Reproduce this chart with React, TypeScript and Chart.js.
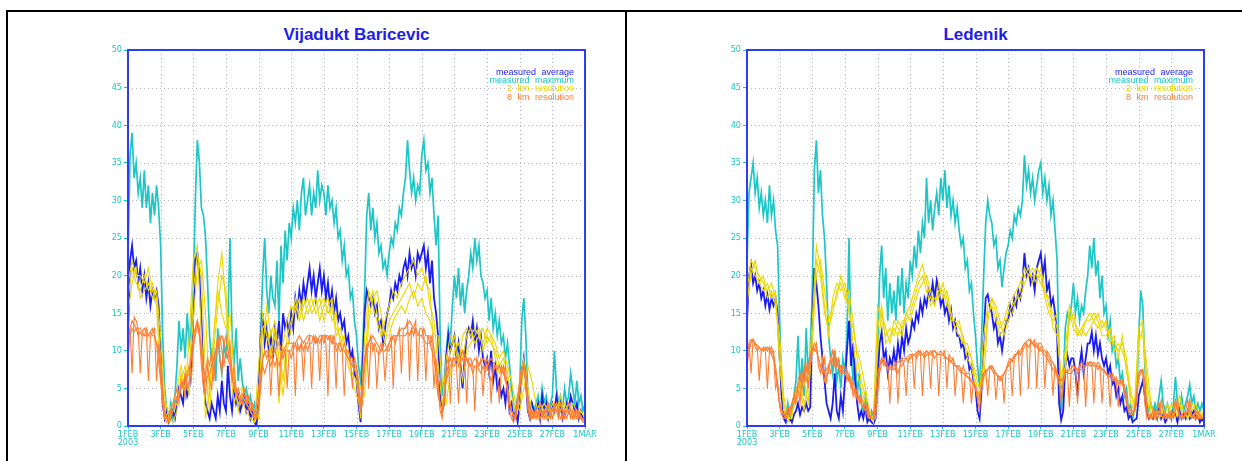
import React, { useEffect, useRef } from 'react';
import { Chart, registerables } from 'chart.js';

Chart.register(...registerables);

// ---------- labels ----------
const xTickLabels = ['1FEB', '3FEB', '5FEB', '7FEB', '9FEB', '11FEB', '13FEB', '15FEB', '17FEB', '19FEB', '21FEB', '23FEB', '25FEB', '27FEB', '1MAR'];
const yearLabel = '2003';
const legendLabels = ['measured average', 'measured maximum', '2 km resolution', '8 km resolution'];
const titles = ['Vijadukt Baricevic', 'Ledenik'];

// ---------- Vijadukt Baricevic (one row per day, last row = 1MAR) ----------
const baricevicMax = [
  [22, 36, 39, 33, 35, 31, 33, 29], [34, 29, 32, 27, 31, 28, 32, 29], [24, 12, 5, 2, 1, 3, 1, 4], [8, 14, 10, 13, 9, 15, 11, 13],
  [18, 30, 38, 35, 29, 28, 25, 19], [12, 8, 10, 6, 13, 9, 7, 11], [9, 14, 25, 12, 8, 13, 6, 9], [6, 4, 5, 3, 4, 2, 3, 1],
  [2, 12, 20, 25, 18, 15, 20, 17], [16, 22, 14, 24, 19, 26, 22, 27], [25, 29, 27, 30, 26, 31, 33, 28], [30, 32, 28, 31, 29, 34, 30, 32],
  [31, 28, 32, 29, 30, 27, 29, 25], [26, 22, 24, 20, 21, 17, 18, 14], [12, 8, 6, 10, 18, 28, 31, 26], [29, 25, 27, 23, 24, 21, 22, 20],
  [23, 25, 24, 27, 26, 29, 28, 31], [33, 38, 34, 31, 33, 30, 32, 31], [36, 38, 34, 35, 31, 33, 28, 24], [28, 12, 4, 6, 10, 13, 11, 16],
  [20, 17, 21, 16, 19, 15, 18, 20], [23, 21, 25, 22, 24, 20, 19, 17], [18, 14, 17, 13, 15, 12, 14, 11], [12, 9, 11, 8, 5, 3, 2, 4],
  [5, 14, 17, 12, 4, 2, 3, 2], [3, 4, 2, 5, 3, 4, 2, 3], [4, 10, 5, 3, 4, 2, 5, 3], [4, 7, 5, 3, 6, 3, 4, 2], [3],
];
const baricevicAvg = [
  [12, 22, 24, 21, 22, 19, 21, 18], [20, 17, 19, 16, 18, 17, 18, 16], [10, 3, 1, 2, 0.5, 1, 2, 1], [3, 5, 4, 3, 6, 4, 5, 8],
  [15, 22, 23, 20, 14, 6, 3, 2], [1, 3, 2, 1, 4, 2, 6, 3], [2, 8, 4, 2, 5, 3, 4, 2], [3, 4, 2, 3, 1, 2, 0.5, 0],
  [4, 12, 15, 11, 13, 10, 12, 9], [13, 11, 14, 10, 15, 13, 14, 12], [15, 13, 17, 15, 18, 16, 19, 17], [19, 21, 18, 20, 17, 19, 21, 18],
  [20, 17, 19, 16, 18, 15, 17, 14], [15, 13, 14, 11, 12, 9, 10, 7], [6, 3, 0.5, 8, 15, 18, 17, 16], [17, 15, 16, 13, 14, 11, 13, 15],
  [16, 18, 17, 19, 18, 20, 19, 21], [22, 20, 23, 21, 22, 20, 23, 22], [23, 24, 21, 23, 19, 22, 17, 15], [12, 4, 2, 3, 9, 12, 10, 11],
  [12, 9, 11, 8, 5, 9, 12, 13], [12, 14, 11, 13, 10, 12, 9, 8], [9, 7, 10, 6, 8, 5, 6, 4], [5, 3, 6, 2, 3, 1, 2, 0.5],
  [3, 7, 9, 6, 2, 1, 3, 2], [2, 3, 1, 4, 2, 3, 1, 2], [3, 2, 4, 2, 3, 1, 2, 3], [2, 4, 3, 2, 3, 1, 2, 1], [1],
];
const baricevic2kmA = [
  [19, 22, 20, 20], [19, 21, 18, 16], [6, 1, 2, 3], [5, 8, 4, 12], [22, 24, 12, 1], [5, 12, 19, 23], [16, 8, 3, 5], [3, 2, 1, 0.5],
  [8, 15, 12, 10], [13, 3, 11, 14], [16, 15, 17, 14], [16, 17, 15, 16], [17, 15, 16, 12], [13, 11, 9, 7], [6, 1, 12, 18], [16, 14, 12, 14],
  [16, 18, 17, 19], [20, 21, 22, 20], [21, 19, 18, 10], [4, 2, 9, 12], [11, 8, 12, 13], [12, 13, 12, 11], [13, 12, 9, 7], [8, 5, 2, 1],
  [6, 9, 3, 1], [2, 3, 2, 1], [3, 2, 4, 2], [3, 2, 1, 2], [1],
];
const baricevic2kmB = [
  [17, 21, 19, 18], [20, 18, 19, 17], [9, 2, 0.5, 2], [3, 6, 8, 4], [18, 23, 20, 7], [2, 10, 16, 20], [18, 10, 5, 3], [4, 3, 2, 1],
  [4, 13, 14, 9], [12, 11, 6, 12], [14, 16, 15, 17], [15, 16, 17, 14], [16, 17, 14, 15], [11, 12, 8, 6], [4, 3, 8, 16], [18, 15, 13, 11],
  [14, 15, 16, 17], [18, 19, 17, 19], [18, 20, 16, 14], [8, 3, 6, 10], [12, 9, 6, 10], [11, 12, 13, 10], [12, 11, 10, 8], [9, 7, 4, 2],
  [3, 8, 5, 2], [1, 2, 3, 2], [2, 3, 2, 3], [2, 3, 2, 1], [0.5],
];
const baricevic2kmC = [
  [15, 19, 21, 17], [18, 19, 17, 18], [12, 4, 1, 0.5], [2, 7, 5, 8], [14, 21, 22, 15], [4, 12, 18, 15], [13, 15, 7, 2], [5, 4, 3, 2],
  [1, 10, 16, 12], [14, 9, 4, 10], [13, 17, 14, 16], [17, 15, 16, 17], [14, 16, 17, 13], [12, 10, 9, 8], [7, 5, 4, 14], [17, 18, 15, 12],
  [12, 14, 15, 16], [15, 17, 18, 16], [17, 15, 14, 12], [12, 6, 3, 7], [10, 11, 9, 12], [13, 11, 12, 13], [11, 12, 11, 9], [10, 8, 6, 3],
  [2, 5, 8, 6], [3, 1, 2, 3], [1, 2, 3, 2], [3, 1, 2, 2], [1],
];
const baricevic8kmA = [
  [11, 13, 7, 14.5, 14, 13, 7, 12.5], [13, 12.5, 6, 12, 12.5, 13, 6, 11], [9, 5, 2, 1, 0.5, 1, 2, 3], [3, 4, 5, 6, 4, 7, 8, 6],
  [10, 13, 14, 13, 10, 6, 4, 8], [6, 5, 8, 10, 12, 9, 7, 11], [12, 10, 9, 6, 8, 5, 4, 3], [4, 5, 3, 4, 2, 3, 1, 1],
  [3, 6, 9, 10, 9, 10, 4, 10], [10, 9, 4, 10, 9, 10, 5, 10], [10, 11, 4, 11, 10, 11, 6, 11], [11, 12, 5, 11, 12, 11, 6, 12],
  [12, 11, 4, 12, 12, 11, 5, 11], [11, 10, 4, 10, 10, 9, 5, 9], [8, 6, 2, 5, 9, 11, 5, 11], [11, 10, 5, 10, 11, 10, 6, 10],
  [11, 12, 5, 12, 12, 13, 7, 13], [13, 14, 6, 13, 13, 14, 6, 13], [13, 12, 6, 12, 12, 11, 5, 9], [5, 2, 1, 4, 8, 9, 3, 9],
  [9, 8, 3, 9, 10, 9, 3, 9], [9, 8, 2, 9, 8, 9, 4, 8], [9, 8, 3, 8, 8, 7, 3, 8], [7, 8, 4, 2, 1, 0.5, 2, 4],
  [6, 8, 8, 7, 3, 1, 2, 1], [2, 1, 3, 2, 1, 2, 3, 1], [2, 3, 2, 1, 3, 2, 1, 2], [3, 2, 1, 2, 1, 2, 1, 1], [0.5],
];
const baricevic8kmB = [
  [9, 12, 13, 12.5, 13, 12, 12.5, 12], [12, 13, 12, 12.5, 12, 12, 11, 10], [7, 3, 1, 0.5, 1, 2, 3, 4], [5, 3, 6, 5, 7, 5, 6, 9],
  [11, 12, 13.5, 12, 8, 5, 7, 9], [8, 10, 6, 9, 11, 12, 10, 8], [10, 9, 11, 7, 6, 4, 5, 4], [3, 4, 4, 3, 3, 2, 2, 1],
  [2, 5, 8, 7, 8, 9, 8, 9], [8, 9, 8, 9, 10, 10, 10, 10], [9, 10, 11, 10, 10.5, 11, 10, 11], [10, 11, 11, 12, 11, 11.5, 11, 12],
  [11, 12, 11.5, 12, 11, 12, 10, 10.5], [11, 10, 11, 10, 10, 9, 9, 8], [8, 4, 2, 3, 8, 10, 11, 12], [10, 11, 10, 9.5, 10, 11, 11, 10],
  [10, 11, 12, 11, 12, 12, 12, 12], [12, 12.5, 12, 13, 12, 13, 12.5, 12], [12, 13, 12, 12, 11, 12, 10, 8], [6, 3, 2, 3, 7, 8, 9, 8],
  [8, 9, 8, 8.5, 9, 8, 9, 8], [8, 7, 8, 8, 7.5, 7, 8, 7], [8, 7, 6, 7, 8, 7.5, 8, 7], [8, 6, 5, 3, 2, 1, 1, 3],
  [5, 7, 8, 6, 2, 1, 1, 2], [1, 2, 2, 1, 2, 1, 2, 2], [1, 2, 3, 2, 2, 1, 2, 1], [2, 1, 2, 1, 2, 1, 1, 0.5], [0.5],
];
const baricevic8kmC = [
  [12, 14, 13, 13], [12, 12, 13, 11], [6, 1, 1, 2], [4, 5, 6, 7], [12, 14, 10, 6], [7, 9, 11, 12], [10, 8, 5, 4], [3, 3, 2, 1],
  [5, 9, 10, 9], [10, 11, 10, 11], [11, 11, 12, 11], [12, 12, 11, 12], [12, 12, 11, 11], [10, 10, 9, 8], [7, 3, 9, 11], [12, 11, 10, 10],
  [11, 12, 12, 13], [13, 14, 13, 12], [12, 11, 11, 9], [4, 2, 6, 8], [9, 9, 10, 9], [8, 9, 8, 9], [8, 9, 8, 8], [7, 5, 2, 1],
  [5, 8, 4, 1], [2, 1, 2, 2], [2, 3, 1, 2], [2, 1, 2, 1], [1],
];

// ---------- Ledenik ----------
const ledenikMax = [
  [22, 31, 33, 35, 31, 33, 29, 31], [28, 30, 27, 32, 28, 30, 26, 24], [14, 5, 2, 1, 3, 1, 2, 4], [6, 12, 5, 9, 4, 13, 7, 10],
  [18, 34, 38, 31, 34, 28, 25, 19], [12, 9, 7, 10, 6, 8, 5, 9], [7, 12, 25, 10, 6, 9, 4, 7], [3, 2, 4, 2, 1, 2, 1, 2],
  [10, 20, 24, 17, 21, 14, 19, 15], [18, 14, 20, 16, 21, 15, 19, 17], [22, 20, 24, 21, 26, 23, 27, 25], [33, 27, 30, 26, 29, 31, 28, 33],
  [30, 34, 29, 32, 28, 30, 27, 29], [26, 24, 25, 21, 22, 18, 19, 15], [12, 8, 5, 12, 20, 27, 30, 28], [27, 24, 25, 21, 22, 18.5, 21, 23],
  [24, 26, 25, 28, 27, 29, 28, 30], [36, 32, 34, 31, 33, 30, 32, 34], [35, 31, 33, 30, 32, 28, 30, 26], [22, 8, 2, 6, 13, 15, 14, 16],
  [19, 15, 17, 14, 16, 15, 18, 20], [24, 21, 25, 20, 22, 17, 20, 15], [16, 12, 14, 10, 11, 8, 9, 6], [7, 4, 5, 2, 3, 1, 2, 4],
  [12, 18, 16, 8, 3, 2, 3, 2], [3, 2, 4, 6, 3, 2, 3, 2], [1, 3, 6.5, 3, 2, 4, 2, 3], [4, 5.5, 3, 4, 2, 3, 2, 3], [2],
];
const ledenikAvg = [
  [14, 20, 21.5, 19, 20, 18, 19, 17], [18, 16, 17.5, 15.5, 17, 16, 17, 15], [9, 4, 1, 0.5, 2, 1, 0.5, 1.5], [2, 3, 1.5, 2.5, 2, 3, 2, 2.5],
  [14, 21, 19, 16, 12, 9, 6, 3], [2, 1, 3, 7, 2, 1, 4, 2], [6, 10, 14, 8, 11, 6, 3, 1], [2, 1, 2.5, 0.5, 1, 0.5, 0.3, 1],
  [6, 11, 12.5, 9, 10, 7, 9, 8], [10, 8, 11, 9, 12, 10, 13, 11], [12, 14, 13, 15, 14, 16.5, 15, 17], [16, 18, 17, 19, 17, 19.4, 18, 16],
  [17, 15, 16, 14, 15.5, 13, 14, 12], [12, 10.5, 11, 9, 9.5, 7.5, 8, 6], [5, 2, 1, 5, 12, 17, 17.5, 16], [15, 13, 14, 11, 12, 10, 12, 14],
  [14, 16, 15, 17, 16, 18, 17, 19], [23, 20, 21, 19, 20, 18, 21, 22], [23, 20, 22, 18, 19, 16, 17, 15], [12, 3, 0.8, 2, 8, 9.5, 8, 9],
  [9, 7, 4, 8, 10, 7, 9, 11], [11, 12.5, 10, 12, 9.5, 11, 9, 8], [9, 7, 8, 5.5, 6, 4, 5, 3], [4, 2, 2.5, 1, 1.5, 0.5, 0.8, 1],
  [4, 5, 6, 4, 2, 1, 1.5, 1], [2, 1, 2.5, 1, 1.5, 0.5, 1, 2], [1, 2, 1.5, 0.5, 2, 1, 1.5, 1], [2, 1, 1.5, 2, 1, 1.5, 0.5, 1], [0.5],
];
const ledenik2kmA = [
  [18, 22, 21, 20], [19, 18, 19, 17], [10, 2, 1, 3], [4, 6, 3, 5], [14, 24, 21, 16], [12, 17, 19, 18], [19, 16, 11, 7], [5, 3, 1, 1],
  [16, 14, 12, 13], [12, 14, 13, 15], [16, 18, 20, 21.5], [19, 17, 16, 18], [18, 16, 15, 13], [12, 11, 10, 9], [6, 4, 12, 16], [17, 15, 13, 14],
  [16, 17, 18, 19], [21, 20, 21, 20], [19, 18, 16, 15], [13, 6, 10, 16], [14, 13, 12, 14], [15, 14, 13, 14], [13, 12, 11, 10], [11, 9, 4, 3],
  [13, 14, 6, 2], [1, 2, 1, 3], [1, 2, 4, 2], [1, 2, 3, 1], [1],
];
const ledenik2kmB = [
  [16, 21, 20, 19], [18, 19, 17, 18], [8, 3, 0.5, 2], [3, 5, 2, 6], [10, 22, 20, 15], [13, 15, 18, 19], [17, 18, 14, 9], [6, 4, 2, 1],
  [13, 16, 11, 12], [13, 12, 14, 14], [15, 17, 19, 20], [18, 16, 17, 17], [19, 17, 14, 14], [13, 12, 9, 8], [5, 3, 9, 15], [16, 14, 12, 13],
  [15, 16, 17, 18], [20, 21, 19, 21], [20, 17, 15, 14], [15, 5, 8, 15], [13, 12, 13, 14], [14, 15, 14, 12], [12, 13, 10, 11], [10, 8, 3, 2],
  [11, 13, 4, 1], [2, 1, 2, 2], [2, 1, 3, 1], [2, 1, 2, 2], [1],
];
const ledenik2kmC = [
  [17, 20, 22, 19], [20, 17, 18, 16], [12, 4, 1, 1], [5, 4, 6, 3], [12, 20, 22, 18], [14, 16, 17, 20], [18, 15, 13, 10], [8, 5, 2, 0.5],
  [10, 15, 13, 11], [14, 13, 12, 15], [14, 16, 18, 19], [20, 18, 16, 19], [17, 18, 15, 13], [14, 11, 11, 9], [7, 5, 6, 14], [17, 16, 14, 12],
  [14, 15, 17, 17], [19, 20, 20, 19], [21, 18, 17, 13], [12, 7, 7, 14], [15, 12, 13, 12], [13, 14, 15, 13], [14, 11, 12, 9], [12, 7, 5, 2],
  [12, 12, 8, 3], [1, 3, 2, 1], [3, 2, 3, 2], [1, 3, 2, 1], [2],
];
const ledenik8kmA = [
  [9, 11, 7, 11.5, 11, 10.5, 6, 10], [10.5, 10, 5, 10, 10.5, 9.5, 5, 6], [3, 2, 1.5, 1, 2, 1.5, 2.5, 3], [4, 5, 3, 7, 6, 8, 5, 8],
  [10, 11, 10.5, 9, 8, 7, 9, 6], [8, 7, 9, 10, 8, 9, 7, 8], [8, 6, 7, 5, 6, 4, 5, 3], [4, 3, 2, 3, 1.5, 1, 1, 2],
  [5, 8, 9, 8, 8.5, 8, 3, 8], [8, 8.5, 3, 8, 9, 8, 4, 9], [9, 9.5, 5, 9.5, 10, 9.5, 4, 9.5], [10, 9.5, 5, 10, 10, 9.5, 4, 9.5],
  [9.5, 10, 5, 9.5, 9, 9, 4, 8], [8, 7.5, 3, 7, 7, 7, 3, 6], [5, 3.5, 2, 6, 7, 7.5, 4, 7.5], [8, 7.5, 3.5, 6.5, 6, 6.5, 3, 7.5],
  [8, 8.5, 4, 9, 9.5, 10, 4, 10.5], [11, 11, 5, 11.5, 11, 11.5, 5, 11], [11, 10.5, 5, 10, 9.5, 9, 4, 8], [7, 6, 3, 5.5, 7, 7.5, 2.5, 8],
  [8, 7.5, 3, 8, 8.5, 8, 2.5, 8], [8.5, 8.5, 3, 8, 8.5, 8, 3, 7.5], [7, 6.5, 2.5, 7, 6.5, 6, 2.5, 6], [6, 5.5, 4, 2, 1.5, 2, 2, 3],
  [7, 7.5, 7, 3, 1, 1.5, 1, 2], [1, 2, 3, 1.5, 1, 2, 1, 1.5], [1, 2, 3.5, 2, 1, 1.5, 1, 2], [3.5, 2, 1, 1.5, 1, 2, 1.5, 1], [1],
];
const ledenik8kmB = [
  [8, 10, 11, 11.5, 10.5, 10, 10.5, 10], [10, 10.5, 10, 10.5, 9.5, 10, 7, 5], [2.5, 1.5, 1, 1.5, 2.5, 2, 3, 4], [3, 6, 7, 5, 8, 6, 7, 9],
  [10.5, 10, 11, 8, 7, 9, 6, 7], [7, 9, 10, 8, 9, 7.5, 8, 7], [7, 7.5, 6, 6.5, 4, 5, 3.5, 4], [3, 2.5, 3, 2, 1, 1.5, 2, 1],
  [4, 7, 8.5, 9, 8, 7.5, 8, 7.5], [7.5, 8, 7, 8, 8, 8.5, 9, 8.5], [9, 9.5, 9.5, 9, 9.5, 10, 9.5, 9], [9.5, 9.5, 10, 9.5, 9, 9.5, 9.5, 10],
  [9.5, 9, 9, 9, 8.5, 9, 8, 8], [7.5, 7, 8, 7, 6.5, 6.5, 6, 5.5], [5, 4, 3.5, 5, 6.5, 7, 7.5, 8], [7.5, 7, 7, 6.5, 6.5, 6, 7, 7.5],
  [8.5, 9, 8.5, 9.5, 9.5, 10, 9.5, 10], [10.5, 11, 10.5, 11, 11, 10.5, 11, 10], [10.5, 10, 10, 9.5, 9, 8.5, 8.5, 7.5], [6.5, 5.5, 5, 6, 7.5, 7, 7, 7],
  [7.5, 8, 7, 7.5, 7.5, 7.5, 8, 8.5], [8, 8, 8.5, 8, 7.5, 8, 7.5, 7.5], [7, 6.5, 7, 6.5, 6, 6.5, 5.5, 6], [5.5, 5, 3, 2, 1.5, 1.5, 2.5, 4],
  [6.5, 7, 7.5, 6, 2, 1, 1.5, 1], [2, 1, 1.5, 3.5, 2, 1, 1.5, 1], [2, 1, 2, 3.5, 1.5, 1, 2, 1.5], [2, 3.5, 1.5, 1, 2, 1, 1.5, 1], [1],
];
const ledenik8kmC = [
  [10, 11.5, 11, 10.5], [10, 10.5, 9.5, 8], [3, 1.5, 2, 3], [5, 6, 7, 8], [10.5, 10, 8, 7], [8, 10, 8, 8], [7, 6, 5, 4], [3, 2, 1, 1],
  [7, 9, 8, 7.5], [8, 8.5, 9, 9], [9.5, 9.5, 10, 9.5], [10, 9.5, 10, 9.5], [9.5, 9, 8.5, 8], [7.5, 7, 6.5, 6], [5, 4, 7, 7.5], [8, 7, 6.5, 7],
  [8, 9, 9.5, 10], [11, 11.5, 11, 10.5], [10, 9.5, 8.5, 7.5], [7, 6, 7, 7.5], [8, 7.5, 8, 8], [8.5, 8, 8, 7.5], [7, 6.5, 6, 6], [6, 3, 2, 2],
  [7, 7.5, 2, 1], [1.5, 2, 1, 1.5], [1, 3, 1.5, 1], [2, 1.5, 1, 1], [1],
];

// ---------- style ----------
const BLUE = '#1c1cf0';
const TEAL = '#1ec6c6';
const YELLOW = '#ecd600';
const ORANGE = '#ff7d32';
const AXIS_BLUE = '#2f3cf5';
const legendColors = [BLUE, TEAL, YELLOW, ORANGE];
const TICK_FONT = "'Liberation Sans Narrow', 'DejaVu Sans Condensed', 'Liberation Sans', Arial, sans-serif";

function toPoints(rows: number[][]) {
  const pts: { x: number; y: number }[] = [];
  rows.forEach((row, d) => row.forEach((v, j) => pts.push({ x: d + j / row.length, y: v })));
  return pts;
}

const gradsPlugin = {
  id: 'gradsFrame',
  beforeDatasetsDraw(chart: any) {
    const { ctx, chartArea: a, scales } = chart;
    const x = scales.x;
    const y = scales.y;
    ctx.save();
    ctx.strokeStyle = '#b8b8b8';
    ctx.lineWidth = 1;
    ctx.setLineDash([1, 3]);
    x.ticks.forEach((t: any) => {
      if (t.value <= x.min || t.value >= x.max) return;
      const px = Math.round(x.getPixelForValue(t.value)) + 0.5;
      ctx.beginPath();
      ctx.moveTo(px, a.top);
      ctx.lineTo(px, a.bottom);
      ctx.stroke();
    });
    y.ticks.forEach((t: any) => {
      if (t.value <= y.min || t.value >= y.max) return;
      const py = Math.round(y.getPixelForValue(t.value)) + 0.5;
      ctx.beginPath();
      ctx.moveTo(a.left, py);
      ctx.lineTo(a.right, py);
      ctx.stroke();
    });
    ctx.restore();
  },
  afterDatasetsDraw(chart: any) {
    const { ctx, chartArea: a } = chart;
    ctx.save();
    ctx.strokeStyle = AXIS_BLUE;
    ctx.lineWidth = 2;
    ctx.strokeRect(a.left, a.top, a.right - a.left, a.bottom - a.top);
    ctx.restore();
  },
};

type PanelProps = {
  title: string;
  canvasLeft: number;
  plotLeft: number;
  plotRight: number;
  maxRows: number[][];
  avgRows: number[][];
  km2: number[][][];
  km8: number[][][];
};

const CANVAS_TOP = 40;
const CANVAS_W = 540;
const CANVAS_H = 410;
const PLOT_TOP = 50;
const PLOT_BOTTOM = 426;

function Panel(p: PanelProps) {
  const ref = useRef<HTMLCanvasElement | null>(null);
  useEffect(() => {
    if (!ref.current) return;
    const yWidth = p.plotLeft - p.canvasLeft;
    const rightPad = CANVAS_W - (p.plotRight - p.canvasLeft);
    const xHeight = CANVAS_TOP + CANVAS_H - PLOT_BOTTOM;
    const datasets: any[] = [
      { label: legendLabels[1], data: toPoints(p.maxRows), borderColor: TEAL, borderWidth: 1.7, order: 4 },
      { label: legendLabels[0], data: toPoints(p.avgRows), borderColor: BLUE, borderWidth: 1.8, order: 3 },
      ...p.km2.map((r) => ({ label: legendLabels[2], data: toPoints(r), borderColor: YELLOW, borderWidth: 1.1, order: 2 })),
      ...p.km8.map((r) => ({ label: legendLabels[3], data: toPoints(r), borderColor: ORANGE, borderWidth: 1.1, order: 1 })),
    ];
    const chart = new Chart(ref.current, {
      type: 'line',
      data: { datasets },
      options: {
        animation: false,
        responsive: false,
        maintainAspectRatio: false,
        elements: { point: { radius: 0 }, line: { tension: 0 } },
        layout: { padding: { top: PLOT_TOP - CANVAS_TOP, right: rightPad, left: 0, bottom: 0 } },
        plugins: { legend: { display: false }, tooltip: { enabled: false }, title: { display: false } },
        scales: {
          x: {
            type: 'linear',
            min: 0,
            max: 28,
            afterFit: (s: any) => { s.height = xHeight; },
            afterBuildTicks: (s: any) => { s.ticks = xTickLabels.map((_, i) => ({ value: i * 2 })); },
            ticks: {
              autoSkip: false,
              maxRotation: 0,
              minRotation: 0,
              padding: 1,
              color: TEAL,
              font: { family: TICK_FONT, size: 9, lineHeight: 0.95 },
              callback: (v: any) => {
                const i = Math.round(Number(v) / 2);
                return i === 0 ? [xTickLabels[0], yearLabel] : xTickLabels[i];
              },
            },
            grid: { drawOnChartArea: false, drawTicks: true, tickLength: 3, tickColor: TEAL },
            border: { display: false },
          },
          y: {
            min: 0,
            max: 50,
            afterFit: (s: any) => { s.width = yWidth; },
            ticks: { stepSize: 5, padding: 2, color: TEAL, font: { family: TICK_FONT, size: 9 } },
            grid: { drawOnChartArea: false, drawTicks: true, tickLength: 4, tickColor: TEAL },
            border: { display: false },
          },
        },
      } as any,
      plugins: [gradsPlugin],
    });
    return () => chart.destroy();
  }, []);

  const center = (p.plotLeft + p.plotRight) / 2;
  return (
    <>
      <div
        style={{
          position: 'absolute', left: center - 150, width: 300, top: 26, textAlign: 'center',
          font: "bold 17px 'Liberation Sans', Arial, sans-serif", lineHeight: '17px', color: '#1e1ee8',
        }}
      >
        {p.title}
      </div>
      <canvas
        ref={ref}
        width={CANVAS_W}
        height={CANVAS_H}
        style={{ position: 'absolute', left: p.canvasLeft, top: CANVAS_TOP, width: CANVAS_W, height: CANVAS_H }}
      />
      <div
        style={{
          position: 'absolute', left: p.plotRight - 311, width: 300, top: 68, textAlign: 'right',
          font: "9px 'Liberation Sans', Arial, sans-serif", lineHeight: '8.2px', wordSpacing: '3px',
        }}
      >
        {legendLabels.map((l, i) => (
          <div key={l} style={{ color: legendColors[i] }}>{l}</div>
        ))}
      </div>
    </>
  );
}

export default function App() {
  return (
    <div style={{ position: 'absolute', left: 0, top: 0, width: 1242, height: 461, background: '#fff', overflow: 'hidden' }}>
      <div style={{ position: 'absolute', left: 6, top: 10, width: 1236, height: 2, background: '#000' }} />
      <div style={{ position: 'absolute', left: 6, top: 10, width: 2, height: 451, background: '#000' }} />
      <div style={{ position: 'absolute', left: 625, top: 10, width: 2, height: 451, background: '#000' }} />
      <Panel
        title={titles[0]}
        canvasLeft={60}
        plotLeft={128}
        plotRight={585}
        maxRows={baricevicMax}
        avgRows={baricevicAvg}
        km2={[baricevic2kmA, baricevic2kmB, baricevic2kmC]}
        km8={[baricevic8kmA, baricevic8kmB, baricevic8kmC]}
      />
      <Panel
        title={titles[1]}
        canvasLeft={680}
        plotLeft={747}
        plotRight={1204}
        maxRows={ledenikMax}
        avgRows={ledenikAvg}
        km2={[ledenik2kmA, ledenik2kmB, ledenik2kmC]}
        km8={[ledenik8kmA, ledenik8kmB, ledenik8kmC]}
      />
    </div>
  );
}
